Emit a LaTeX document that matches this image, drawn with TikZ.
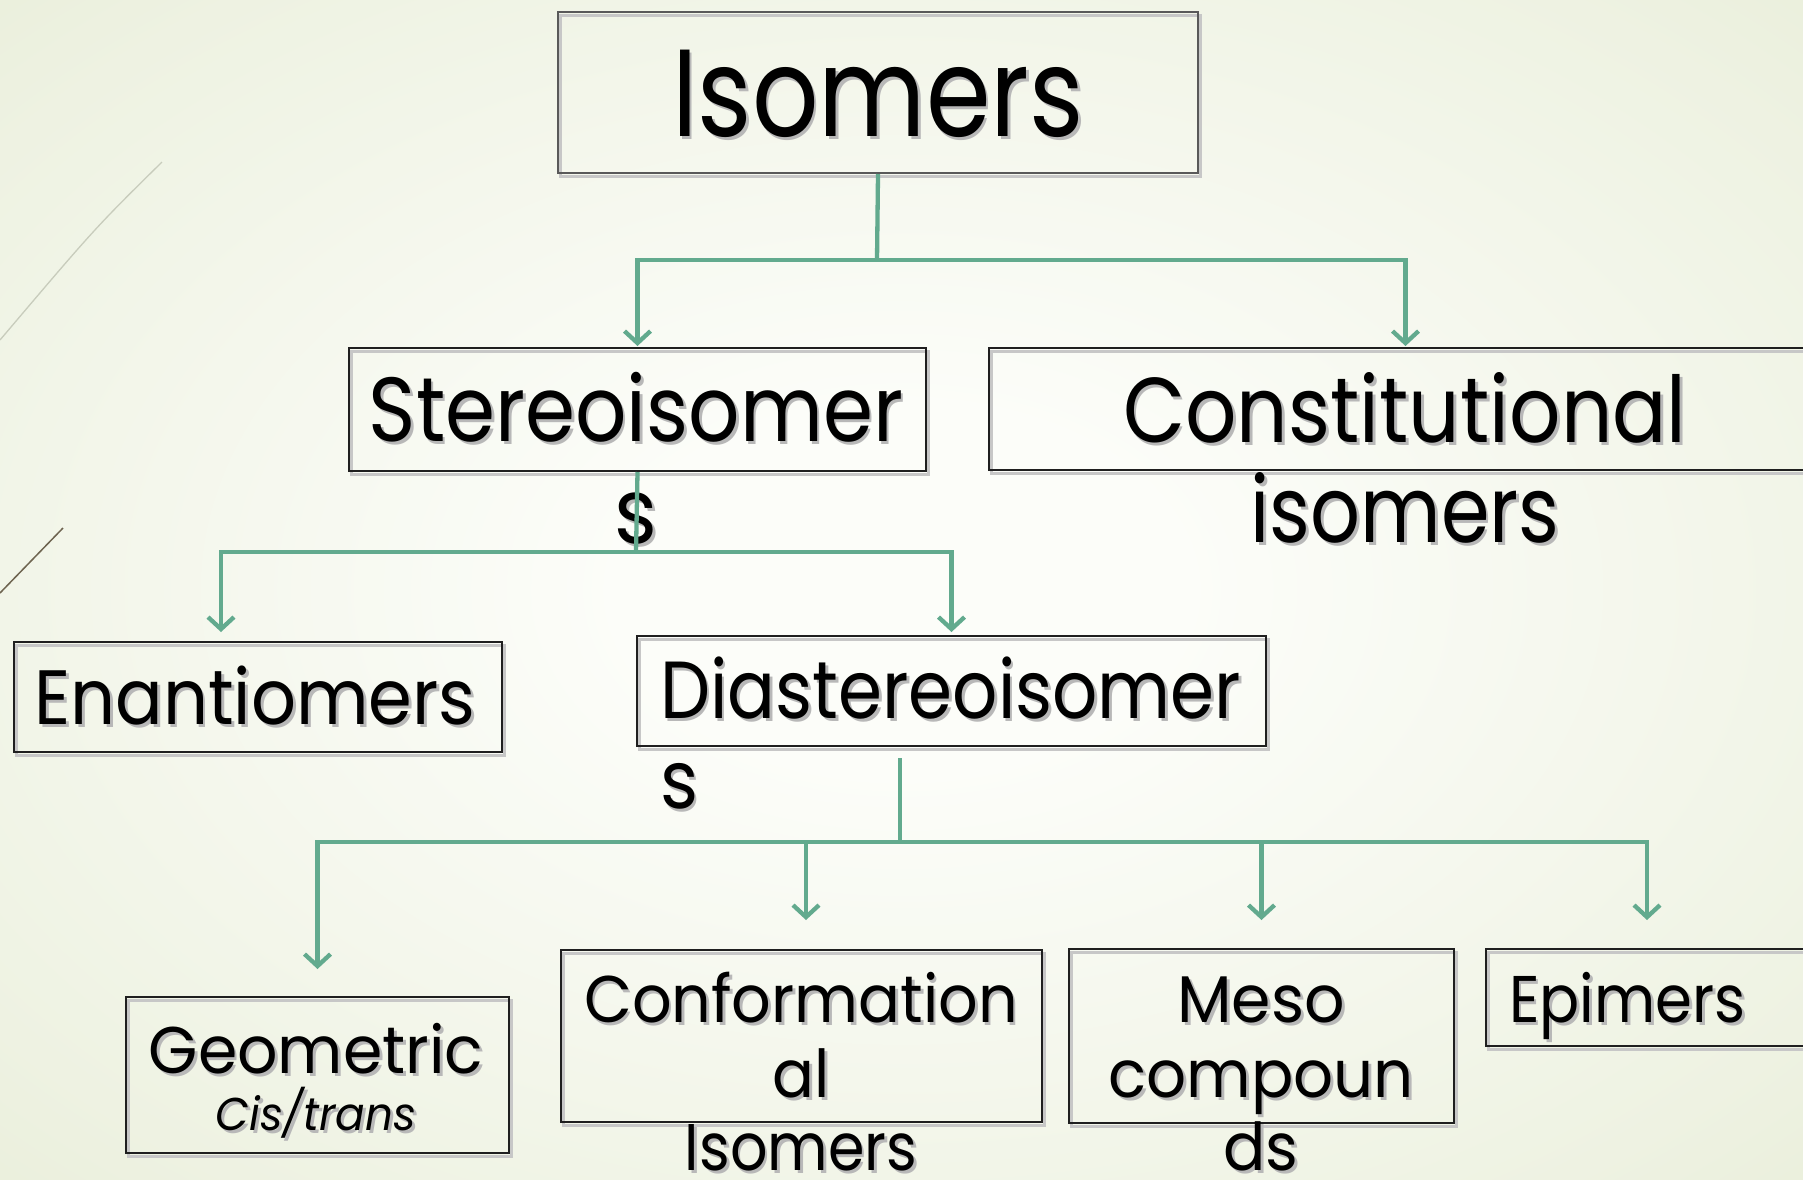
\documentclass[tikz,border=0pt]{standalone}
\usepackage{graphicx}
\usepackage{fontspec}
\setmainfont{Poppins}
\usetikzlibrary{arrows.meta}
\definecolor{connc}{RGB}{98,170,142}
\definecolor{bgout}{RGB}{222,230,200}
\definecolor{bgmid}{RGB}{238,242,226}
\definecolor{bgin}{RGB}{252,253,249}
\definecolor{decoA}{RGB}{200,204,188}
\definecolor{decoB}{RGB}{110,100,80}
\pgfdeclareradialshading{bgshade}{\pgfpoint{0bp}{0bp}}{color(0bp)=(bgin); color(7bp)=(bgin); color(28bp)=(bgmid); color(48bp)=(bgout); color(100bp)=(bgout)}
\newcommand\shd[2][1]{\scalebox{#1}[1]{\rlap{\kern3pt\raisebox{-3pt}{\color{black!28}#2}}#2}}
\newcommand\fs[1]{\fontsize{#1}{#1}\selectfont}
\begin{document}
\begin{tikzpicture}[x=1pt,y=-1pt,
  box/.style={draw=black!88,line width=2pt,inner sep=0pt,anchor=north west,
    preaction={draw=black!22,line width=3pt,transform canvas={xshift=2.5pt,yshift=-3pt}}},
  txt/.style={inner sep=0pt,anchor=base,text=black},
  txtl/.style={inner sep=0pt,anchor=base west,text=black},
  conn/.style={draw=connc,line width=4.3pt},
  arr/.style={conn,-{Straight Barb[length=12pt,width=26pt]}}]
\useasboundingbox (0,0) rectangle (1803,1179);
\clip (0,0) rectangle (1803,1179);
\shade[shading=bgshade] (-100,-60) rectangle (1903,1239);
% decorative lines
\draw[decoA,line width=1.3pt] (162,162) .. controls (95,228) .. (0,340);
\draw[decoB,line width=1.5pt] (63,528) -- (0,593);
% boxes
\node[box,minimum width=640pt,minimum height=161pt,draw=black!65] (iso) at (557,11) {};
\node[box,minimum width=577pt,minimum height=123pt] (stereo) at (348,347) {};
\node[box,minimum width=833pt,minimum height=122pt] (const) at (988,347) {};
\node[box,minimum width=488pt,minimum height=110pt] (enan) at (13,641) {};
\node[box,minimum width=629pt,minimum height=110pt] (dia) at (636,635) {};
\node[box,minimum width=383pt,minimum height=156pt] (geo) at (125,996) {};
\node[box,minimum width=481pt,minimum height=172pt] (conf) at (560,949) {};
\node[box,minimum width=385pt,minimum height=174pt] (meso) at (1068,948) {};
\node[box,minimum width=322pt,minimum height=97pt] (epi) at (1485,948) {};
% texts
\node[txt,font=\fs{124}] (tIso) at (878,136) {\shd[0.84]{Isomers}};
\node[txt,font=\fs{91}] (tSt1) at (636,441) {\shd[0.885]{Stereoisomer}};
\node[txt,font=\fs{91}] (tSt2) at (636,543) {\shd[0.9]{s}};
\node[txt,font=\fs{92}] (tCo1) at (1405,442) {\shd[0.875]{Constitutional}};
\node[txt,font=\fs{92}] (tCo2) at (1405,542) {\shd[0.85]{isomers}};
\node[txt,font=\fs{77}] (tEn) at (255,724) {\shd[0.915]{Enantiomers}};
\node[txtl,font=\fs{81}] (tDi1) at (660,718) {\shd[0.875]{Diastereoisomer}};
\node[txtl,font=\fs{81}] (tDi2) at (660,808) {\shd[0.9]{s}};
\node[txt,font=\fs{66}] (tGe1) at (316,1073) {\shd[0.96]{Geometric}};
\node[txt,font=\fs{46}\itshape] (tGe2) at (316,1130) {\shd[0.95]{Cis/trans}};
\node[txt,font=\fs{66}] (tCf1) at (801,1022) {\shd[0.94]{Conformation}};
\node[txt,font=\fs{66}] (tCf2) at (801,1097) {\shd[0.94]{al}};
\node[txt,font=\fs{66}] (tCf3) at (801,1170) {\shd[0.89]{Isomers}};
\node[txt,font=\fs{66}] (tMe1) at (1261,1022) {\shd[0.96]{Meso}};
\node[txt,font=\fs{66}] (tMe2) at (1261,1097) {\shd[0.95]{compoun}};
\node[txt,font=\fs{66}] (tMe3) at (1261,1170) {\shd[0.95]{ds}};
\node[txtl,font=\fs{66}] (tEp) at (1509,1022) {\shd[0.9]{Epimers}};
% connectors
\coordinate (j1) at (877,260);
\coordinate (j2) at (636,552);
\coordinate (d0) at (900,758);
\coordinate (j3) at (900,842);
\draw[conn] (iso.south) -- (j1);
\draw[arr] (j1) -| ([yshift=1pt]stereo.north);
\draw[arr] (j1) -| ([yshift=1pt]const.north);
\draw[conn] (stereo.south) -- (j2);
\draw[arr] (j2) -| ([xshift=-37pt,yshift=9pt]enan.north);
\draw[arr] (j2) -| ([yshift=3pt]dia.north);
\draw[conn] (d0) -- (j3);
\draw[arr] (j3) -| ([yshift=27pt]geo.north);
\draw[arr] (j3) -| ([xshift=4.5pt,yshift=29pt]conf.north);
\draw[arr] (j3) -| ([yshift=28pt]meso.north);
\draw[arr] (j3) -| ([yshift=28pt]epi.north);
\end{tikzpicture}
\end{document}
